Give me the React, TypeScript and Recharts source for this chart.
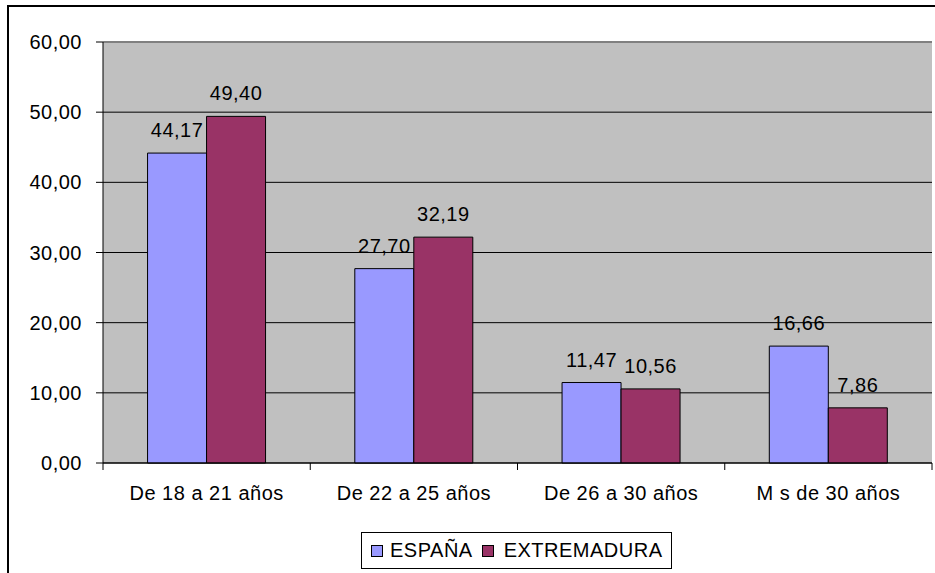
import React from 'react';
import { BarChart, Bar, XAxis, YAxis, CartesianGrid, LabelList, ReferenceLine, Legend } from 'recharts';

const categories = ['De 18 a 21 años', 'De 22 a 25 años', 'De 26 a 30 años', 'M s de 30 años'];
const espana = [44.17, 27.7, 11.47, 16.66];
const extremadura = [49.4, 32.19, 10.56, 7.86];
const yTicks = [0, 10, 20, 30, 40, 50, 60];
const seriesNames = ['ESPAÑA', 'EXTREMADURA'];
const seriesColors = ['#9999FF', '#993366'];

const data = categories.map((c, i) => ({ category: c, espana: espana[i], extremadura: extremadura[i] }));

const fmt = (v: number) => Number(v).toFixed(2).replace('.', ',');
const FONT = '"Liberation Sans", Arial, sans-serif';
const FS = 20;
const LS = '0.5px';

function XTick(props: any) {
  const { x, y, payload, index, visibleTicksCount, width } = props;
  const half = payload && payload.offset ? payload.offset : width / visibleTicksCount / 2;
  const last = index === visibleTicksCount - 1;
  return (
    <g>
      <line x1={x - half} x2={x - half} y1={y} y2={y + 7} stroke="#000" strokeWidth={1} />
      {last && <line x1={x + half} x2={x + half} y1={y} y2={y + 7} stroke="#000" strokeWidth={1} />}
      <text x={x} y={y + 37} textAnchor="middle" fill="#000" fontSize={FS} fontFamily={FONT} style={{ letterSpacing: LS }}>
        {payload.value}
      </text>
    </g>
  );
}

function LegendBox() {
  const sq = (c: string) => (
    <span style={{ display: 'inline-block', width: 10, height: 10, border: '1px solid #000', background: c, marginRight: 7 }} />
  );
  return (
    <div
      style={{
        display: 'flex',
        alignItems: 'center',
        boxSizing: 'border-box',
        width: 311,
        height: 37,
        border: '1px solid #000',
        paddingLeft: 9,
        background: '#fff',
        fontFamily: FONT,
        fontSize: FS,
        letterSpacing: LS,
        color: '#000',
        whiteSpace: 'nowrap',
      }}
    >
      {sq(seriesColors[0])}
      <span style={{ marginRight: 9 }}>{seriesNames[0]}</span>
      {sq(seriesColors[1])}
      <span style={{ marginLeft: 3 }}>{seriesNames[1]}</span>
    </div>
  );
}

export default function App() {
  return (
    <div style={{ position: 'absolute', left: 0, top: 0, width: 935, height: 573, overflow: 'hidden', background: '#fff', fontFamily: FONT, fontSize: FS, letterSpacing: LS }}>
      <div style={{ position: 'absolute', left: 7, top: 5, width: 960, height: 600, border: '2px solid #000', boxSizing: 'border-box' }} />
      <div style={{ position: 'absolute', left: 0, top: 0 }}>
        <BarChart
          width={935}
          height={573}
          data={data}
          margin={{ top: 42, right: 3, left: 8, bottom: 70 }}
          barCategoryGap="21.5%"
          barGap={0}
        >
          <CartesianGrid yAxisId="left" vertical={false} stroke="#000" fill="#C0C0C0" fillOpacity={1} />
          <XAxis
            dataKey="category"
            tickLine={false}
            tickSize={0}
            tickMargin={0}
            height={40}
            axisLine={{ stroke: '#000', strokeWidth: 1 }}
            tick={<XTick />}
            interval={0}
          />
          <YAxis
            yAxisId="left"
            domain={[0, 60]}
            ticks={yTicks}
            width={95}
            tickSize={7}
            tickMargin={14}
            tickFormatter={fmt}
            axisLine={{ stroke: '#000', strokeWidth: 1 }}
            tickLine={{ stroke: '#000', strokeWidth: 1 }}
            tick={{ fill: '#000', fontSize: FS, fontFamily: FONT }}
            interval={0}
          />
          <YAxis
            yAxisId="right"
            orientation="right"
            width={0}
            tick={false}
            tickLine={false}
            axisLine={{ stroke: '#808080', strokeWidth: 2 }}
          />
          <Bar yAxisId="left" dataKey="espana" name={seriesNames[0]} fill={seriesColors[0]} stroke="#000" strokeWidth={1} isAnimationActive={false}>
            <LabelList dataKey="espana" position="top" offset={16} formatter={fmt} fill="#000" fontSize={FS} fontFamily={FONT} />
          </Bar>
          <Bar yAxisId="left" dataKey="extremadura" name={seriesNames[1]} fill={seriesColors[1]} stroke="#000" strokeWidth={1} isAnimationActive={false}>
            <LabelList dataKey="extremadura" position="top" offset={16} formatter={fmt} fill="#000" fontSize={FS} fontFamily={FONT} />
          </Bar>
          <ReferenceLine yAxisId="left" y={60} stroke="#808080" strokeWidth={2} />
          <Legend
            layout="horizontal"
            verticalAlign="middle"
            align="center"
            content={() => <LegendBox />}
            wrapperStyle={{ position: 'absolute', left: 361, top: 532, width: 311, height: 37 }}
          />
        </BarChart>
      </div>
    </div>
  );
}
